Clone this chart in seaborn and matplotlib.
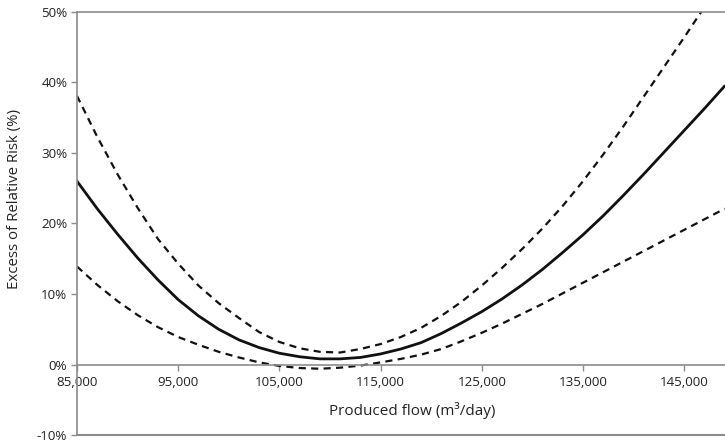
import pandas as pd
import matplotlib.pyplot as plt
import matplotlib.ticker as mticker
import seaborn as sns

# Produced flow (m3/day) and excess relative risk (%)
flow = [85000, 87000, 89000, 91000, 93000, 95000, 97000, 99000, 101000,
        103000, 105000, 107000, 109000, 111000, 113000, 115000, 117000,
        119000, 121000, 123000, 125000, 127000, 129000, 131000, 133000,
        135000, 137000, 139000, 141000, 143000, 145000, 147000, 149000]
risk = [26.0, 22.1, 18.5, 15.1, 12.0, 9.2, 6.9, 5.0, 3.5,
        2.4, 1.6, 1.1, 0.8, 0.8, 1.0, 1.5, 2.2,
        3.1, 4.4, 5.9, 7.5, 9.3, 11.3, 13.5, 15.9,
        18.4, 21.1, 24.0, 27.0, 30.1, 33.2, 36.3, 39.5]
upper = [38.1, 32.3, 27.0, 22.2, 17.8, 14.3, 11.2, 8.7, 6.6,
         4.6, 3.2, 2.3, 1.8, 1.7, 2.2, 2.9, 3.9,
         5.2, 6.9, 8.9, 11.2, 13.7, 16.4, 19.3, 22.5,
         26.0, 29.8, 33.8, 38.0, 42.2, 46.4, 50.7, 55.0]
lower = [13.9, 11.3, 9.0, 7.0, 5.3, 3.9, 2.8, 1.8, 1.0,
         0.3, -0.2, -0.5, -0.6, -0.45, -0.15, 0.3, 0.8,
         1.4, 2.2, 3.3, 4.5, 5.8, 7.2, 8.6, 10.1,
         11.6, 13.1, 14.6, 16.1, 17.6, 19.1, 20.6, 22.1]

x_ticks = [85000, 95000, 105000, 115000, 125000, 135000, 145000]
y_ticks = [-10, 0, 10, 20, 30, 40, 50]

df = pd.DataFrame({'flow': flow, 'risk': risk, 'upper': upper, 'lower': lower})

sns.set_style('white')
plt.rcParams['font.family'] = ['Open Sans', 'DejaVu Sans']

fig = plt.figure(figsize=(7.25, 4.42), dpi=100)
ax = fig.add_axes([0.1062, 0.0158, 0.8938, 0.9571])

# Confidence limits (dashed) and central estimate (solid)
for col in ['upper', 'lower']:
    sns.lineplot(data=df, x='flow', y=col, ax=ax, color='#111111', lw=1.6,
                 linestyle=(0, (3.2, 2.4)))
sns.lineplot(data=df, x='flow', y='risk', ax=ax, color='#111111', lw=2.0)

ax.set_xlim(85000, 149030)
ax.set_ylim(-10, 50)
ax.set_xticks(x_ticks)
ax.set_yticks(y_ticks)
ax.xaxis.set_major_formatter(mticker.FuncFormatter(lambda v, p: f'{v:,.0f}'))
ax.yaxis.set_major_formatter(mticker.FuncFormatter(lambda v, p: f'{v:.0f}%'))

grey = '#8c8c8c'
ax.spines['bottom'].set_position(('data', 0))
ax.spines['right'].set_visible(False)
for s in ['bottom', 'left', 'top']:
    ax.spines[s].set_color(grey)
    ax.spines[s].set_linewidth(1.2)
ax.axhline(-10, color=grey, lw=1.5, clip_on=False)

ax.tick_params(axis='both', direction='out', length=4, width=1,
               color=grey, labelsize=9.6, labelcolor='#222222')
ax.tick_params(axis='x', pad=4)
ax.tick_params(axis='y', pad=3)
ax.xaxis.set_ticks_position('bottom')
ax.yaxis.set_ticks_position('left')

ax.set_xlabel('Produced flow (m³/day)', fontsize=11, color='#222222')
ax.xaxis.set_label_coords(0.517, 0.057)
ax.xaxis.label.set_va('center')
ax.set_ylabel('Excess of Relative Risk (%)', fontsize=10.8, color='#222222')
ax.yaxis.set_label_coords(-0.096, 0.558)
ax.yaxis.label.set_va('center')

plt.savefig('out.png', dpi=100)
